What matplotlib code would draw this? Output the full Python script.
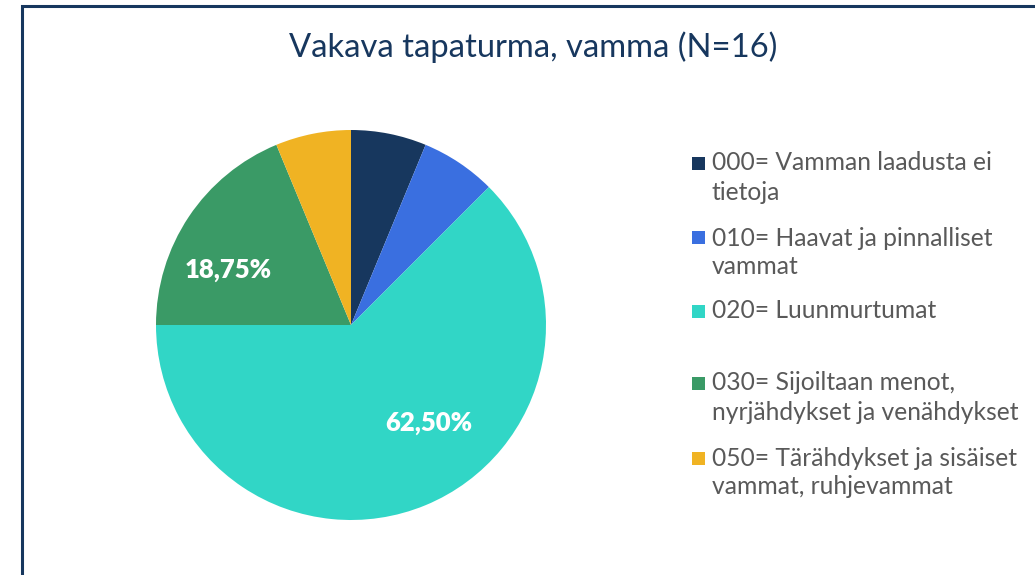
import matplotlib
matplotlib.use("Agg")
import matplotlib.pyplot as plt
from matplotlib.patches import Rectangle

title = "Vakava tapaturma, vamma (N=16)"
categories = [
    "000= Vamman laadusta ei\ntietoja",
    "010= Haavat ja pinnalliset\nvammat",
    "020= Luunmurtumat",
    "030= Sijoiltaan menot,\nnyrjähdykset ja venähdykset",
    "050= Tärähdykset ja sisäiset\nvammat, ruhjevammat",
]
counts = [1, 1, 10, 3, 1]
colors = ["#17375E", "#3A6FE0", "#31D6C6", "#3A9A66", "#F0B323"]

W, H = 1035, 575
fig = plt.figure(figsize=(W / 100, H / 100), dpi=100)
fig.patch.set_facecolor("white")

FONT = ["Lato", "DejaVu Sans"]
TXT = "#595959"
NAVY = "#17375E"

# frame
fig.add_artist(Rectangle((22 / W, -0.05), 1.1, (H - 6) / H + 0.05, transform=fig.transFigure,
                         fill=False, edgecolor=NAVY, linewidth=2.2))

# title
fig.text(533 / W, 1 - 47 / H, title, ha="center", va="center", fontsize=23.6,
         color=NAVY, family=FONT)

# pie
cx, cy, r = 351, 325, 195
ax = fig.add_axes([(cx - r) / W, (H - cy - r) / H, 2 * r / W, 2 * r / H])
ax.set_aspect("equal")
total = sum(counts)
wedges, _ = ax.pie(counts, colors=colors, startangle=90, counterclock=False,
                   radius=1, wedgeprops=dict(linewidth=0))
ax.set_xlim(-1, 1)
ax.set_ylim(-1, 1)
ax.axis("off")

# data labels (only larger slices labelled as in reference)
label_pos = {2: (0.40, -0.505), 3: (-0.63, 0.28)}
for i, (x, y) in label_pos.items():
    pct = counts[i] / total * 100
    s = f"{pct:.2f}".replace(".", ",") + "%"
    ax.text(x, y, s, ha="center", va="center", color="white", fontsize=18.5,
            fontweight="heavy", family=FONT)

# legend (manual layout)
first_line_y = [163, 238, 311, 383, 458]
line_h = 29
for i, lab in enumerate(categories):
    y0 = first_line_y[i]
    fig.add_artist(Rectangle((692 / W, 1 - (y0 + 6.5) / H), 13 / W, 13 / H,
                             transform=fig.transFigure, facecolor=colors[i],
                             edgecolor="none"))
    for j, line in enumerate(lab.split("\n")):
        fig.text(712 / W, 1 - (y0 + j * line_h) / H, line, ha="left", va="center",
                 fontsize=17.7, color=TXT, family=FONT)

fig.savefig("out.png", dpi=100)
